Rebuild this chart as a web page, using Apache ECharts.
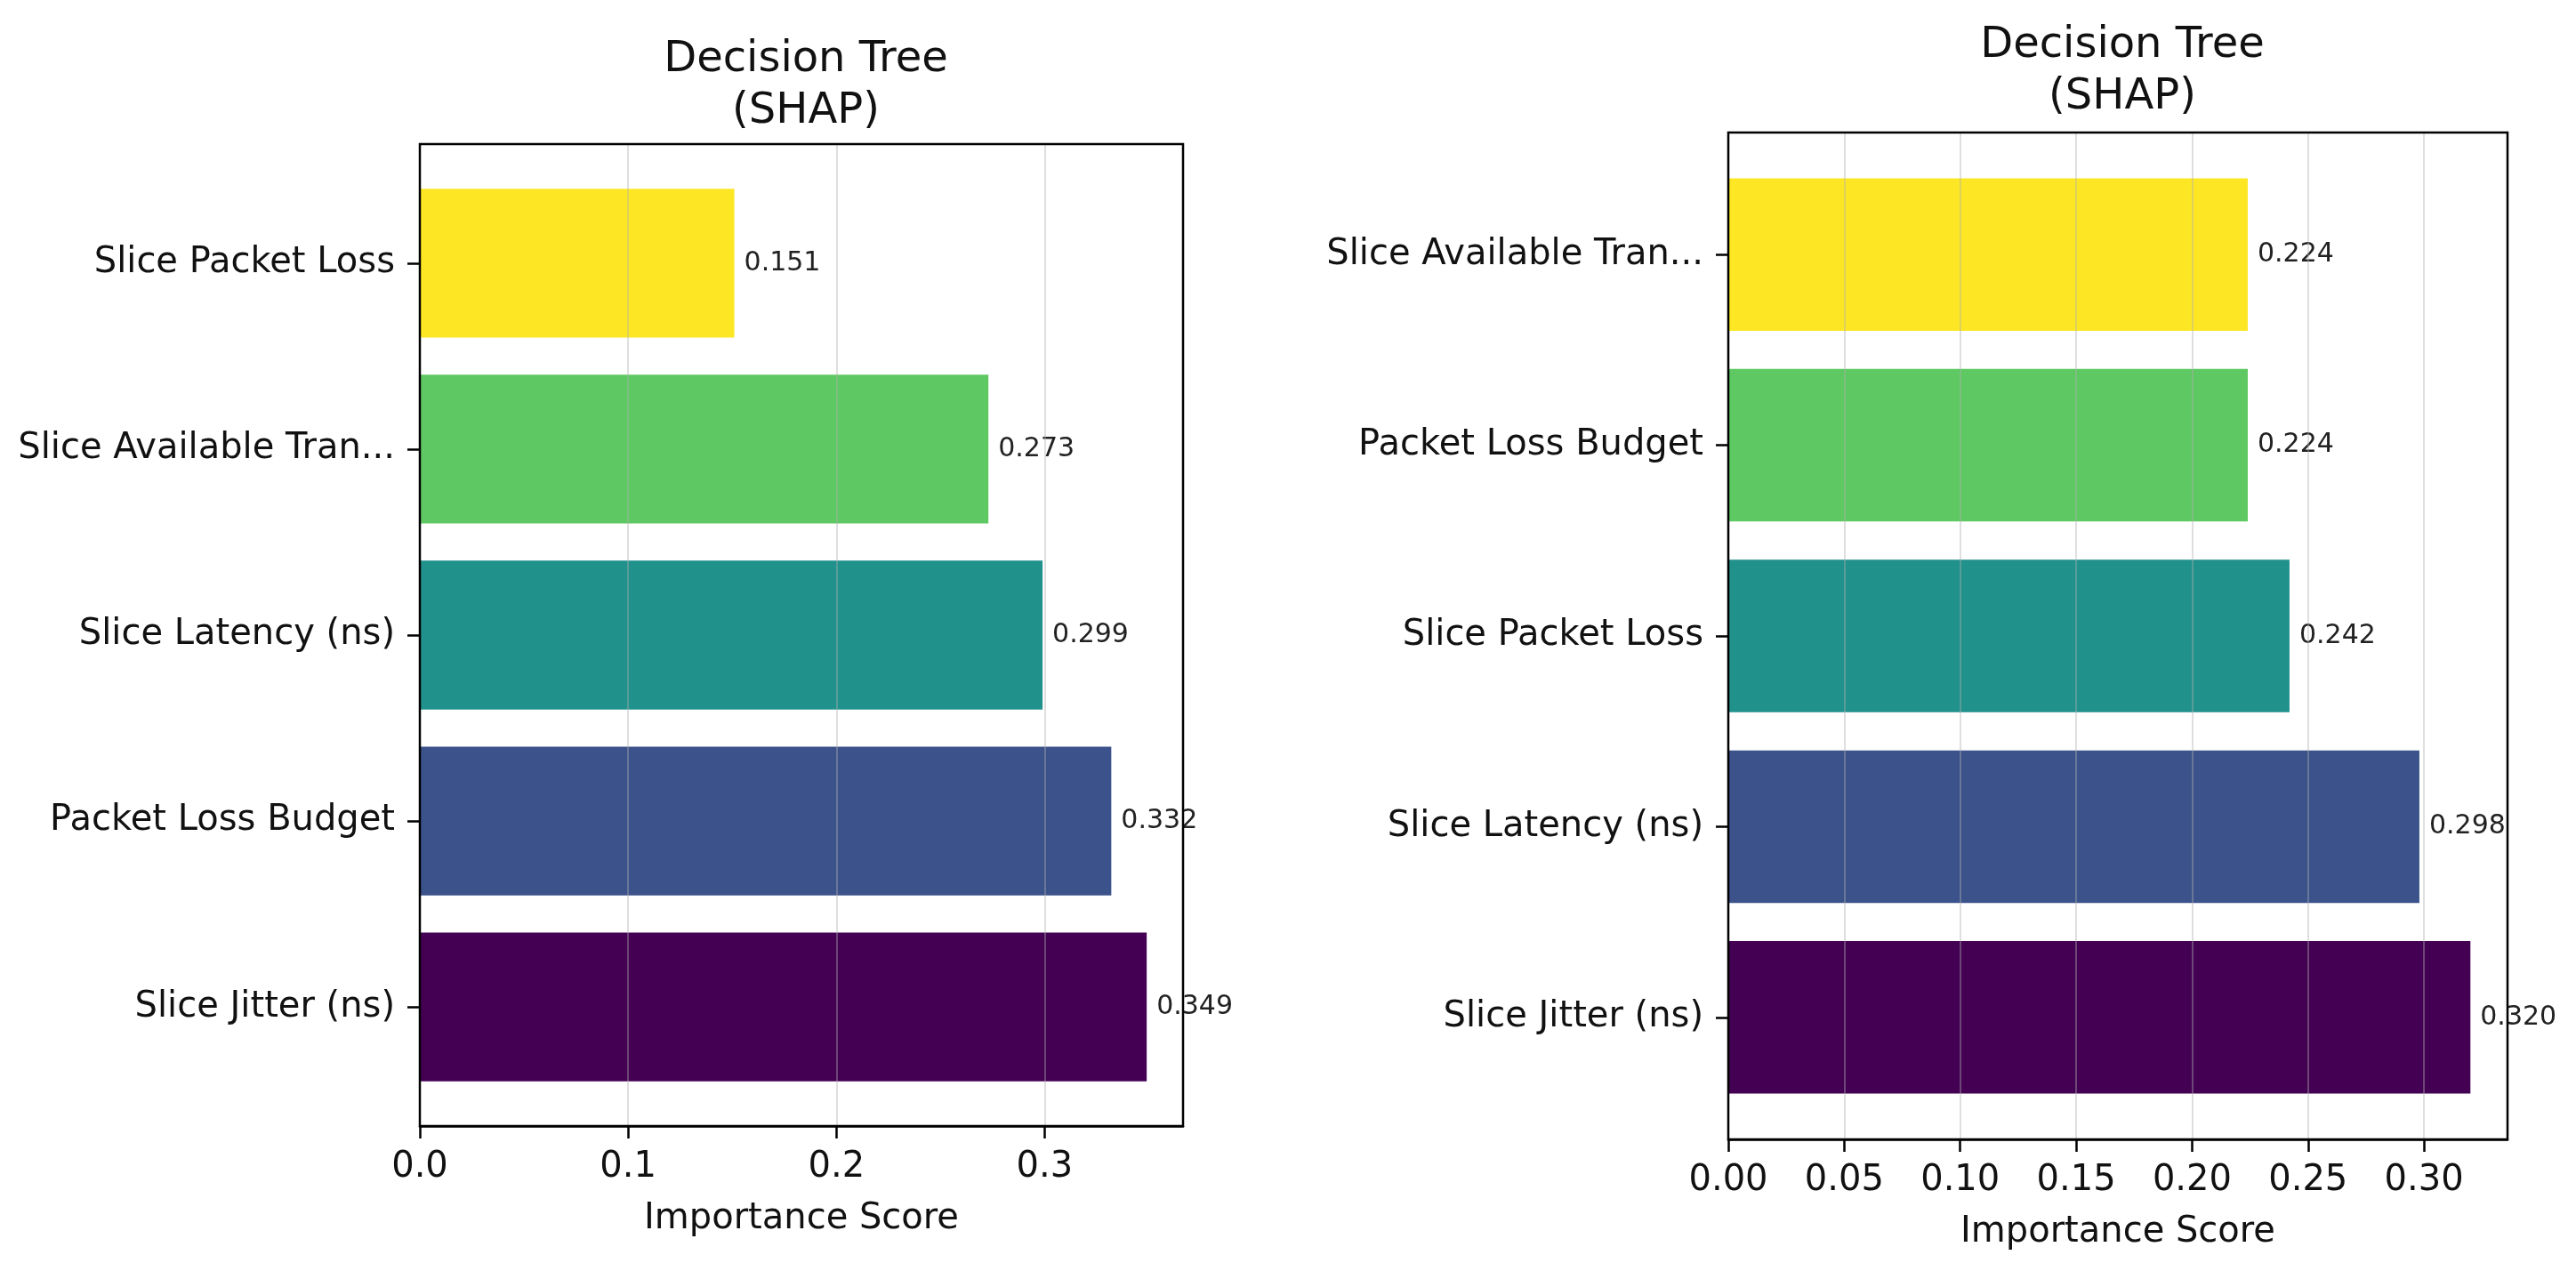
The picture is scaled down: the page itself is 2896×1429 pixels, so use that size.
<!DOCTYPE html>
<html>
<head>
<meta charset="utf-8">
<script src="https://cdn.jsdelivr.net/npm/echarts@6/dist/echarts.min.js"></script>
<style>
html,body{margin:0;padding:0;background:#fff;}
#c{width:2896px;height:1429px;}
</style>
</head>
<body>
<div id="c"></div>
<script>
// Data (categories listed bottom-to-top, as in the bar chart)
const leftCategories = ['Slice Jitter (ns)', 'Packet Loss Budget', 'Slice Latency (ns)', 'Slice Available Tran...', 'Slice Packet Loss'];
const leftValues = [0.349, 0.332, 0.299, 0.273, 0.151];
const leftTicks = [0, 0.1, 0.2, 0.3];

const rightCategories = ['Slice Jitter (ns)', 'Slice Latency (ns)', 'Slice Packet Loss', 'Packet Loss Budget', 'Slice Available Tran...'];
const rightValues = [0.320, 0.298, 0.242, 0.224, 0.224];
const rightTicks = [0, 0.05, 0.10, 0.15, 0.20, 0.25, 0.30];

const barColors = ['#440154', '#3b528b', '#21918c', '#5ec962', '#fde725'];
const panelTitle = 'Decision Tree\n(SHAP)';
const axisName = 'Importance Score';

const FONT = 'DejaVu Sans';
const W = 2896, H = 1429;

// panel frames in pixels
const P = [
  {l: 472, r: 1330, t: 162, b: 1266, ticks: leftTicks, dec: 1, cats: leftCategories, vals: leftValues, titleTop: 34},
  {l: 1943, r: 2819, t: 149, b: 1281, ticks: rightTicks, dec: 2, cats: rightCategories, vals: rightValues, titleTop: 18}
];

const grid = [], xAxis = [], yAxis = [], series = [], title = [];
P.forEach((p, i) => {
  const xmax = Math.max.apply(null, p.vals) * 1.05;
  const unit = (p.b - p.t) / 5.28;
  const inset = 0.14 * unit;
  // frame grid
  grid.push({left: p.l, right: W - p.r, top: p.t, bottom: H - p.b, show: true, z: 5,
    borderColor: '#000', borderWidth: 2.5, backgroundColor: 'transparent', containLabel: false});
  // bar grid
  grid.push({left: p.l, right: W - p.r, top: p.t + inset, bottom: H - p.b + inset, show: false});
  const gf = 2 * i, gb = 2 * i + 1;
  xAxis.push({type: 'value', gridIndex: gf, min: 0, max: xmax, z: 3,
    axisLine: {show: true, lineStyle: {color: '#000', width: 2.5}},
    axisTick: {show: true, length: 14, customValues: p.ticks, lineStyle: {color: '#000', width: 2.5}},
    axisLabel: {customValues: p.ticks, fontFamily: FONT, fontSize: 40, color: '#111', margin: 27,
      formatter: v => v.toFixed(p.dec)},
    splitLine: {show: true, lineStyle: {color: 'rgba(176,176,176,0.4)', width: 2}},
    name: axisName, nameLocation: 'middle', nameGap: 85,
    nameTextStyle: {fontFamily: FONT, fontSize: 40, color: '#111'}
  });
  yAxis.push({type: 'value', gridIndex: gf, min: 0, max: 1, show: true,
    axisLine: {show: false}, axisTick: {show: false}, axisLabel: {show: false}, splitLine: {show: false}});
  xAxis.push({type: 'value', gridIndex: gb, min: 0, max: xmax, show: false});
  yAxis.push({type: 'category', gridIndex: gb, data: p.cats,
    axisLine: {show: false},
    axisTick: {show: true, alignWithLabel: true, length: 14, lineStyle: {color: '#000', width: 2.5}},
    axisLabel: {fontFamily: FONT, fontSize: 40, color: '#111', margin: 28},
    splitLine: {show: false}
  });
  series.push({type: 'bar', xAxisIndex: 2 * i + 1, yAxisIndex: 2 * i + 1, barWidth: '80%', z: 2,
    data: p.vals.map((v, k) => ({value: v, itemStyle: {color: barColors[k]}})),
    label: {show: true, position: 'right', distance: 11, fontFamily: FONT, fontSize: 30, color: '#222',
      formatter: o => o.value.toFixed(3)}
  });
  title.push({text: panelTitle, left: (p.l + p.r) / 2, top: p.titleTop, textAlign: 'center',
    textStyle: {fontFamily: FONT, fontSize: 48, fontWeight: 'normal', color: '#111', lineHeight: 58}});
});

const chart = echarts.init(document.getElementById('c'), null, {renderer: 'canvas'});
chart.setOption({backgroundColor: '#fff', animation: false, title, grid, xAxis, yAxis, series});
</script>
</body>
</html>
